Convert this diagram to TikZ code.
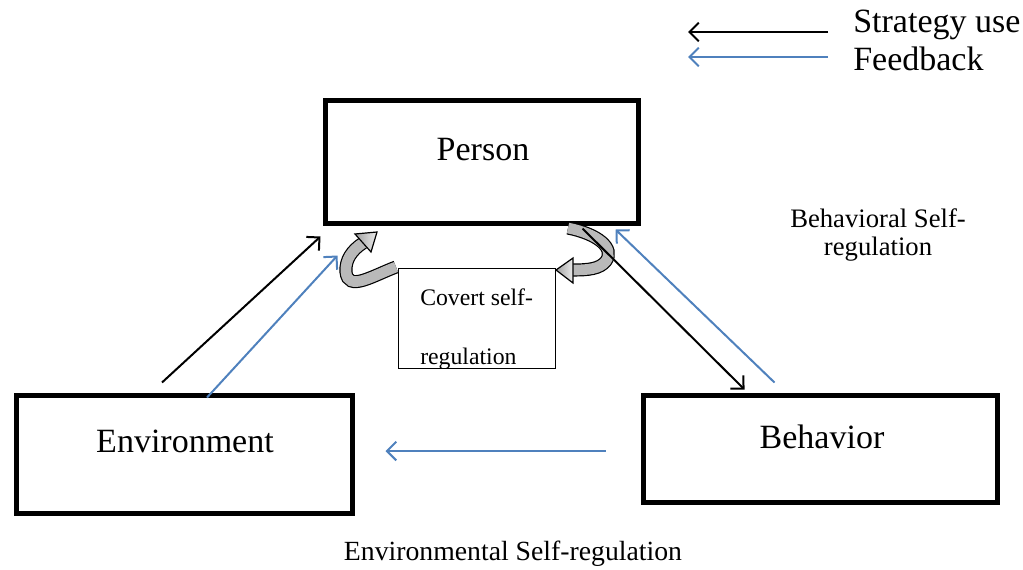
\documentclass[tikz,border=0pt]{standalone}
\usepackage{fontspec}
\setmainfont{Liberation Serif}
\usetikzlibrary{arrows.meta, calc, positioning}

\definecolor{FeedbackBlue}{RGB}{79,129,189}
\newcommand{\BoxFont}{\fontsize{25.5}{30}\selectfont}
\newcommand{\SideFont}{\fontsize{20}{24}\selectfont}
\newcommand{\CovFont}{\fontsize{17.8}{21}\selectfont}

\begin{document}
\begin{tikzpicture}
			[
			x=0.75pt, y=-0.75pt,
			BigBox/.style={draw, line width=3.75pt, fill=white, inner sep=0pt},			%Hauptboxen
			SmallBox/.style={draw, line width=0.75pt, fill=white, inner sep=0pt},		%Covert-Box
			Strategy/.style={line width=1.5pt, -{Straight Barb[length=7pt, width=14pt, line width=1.5pt]}},		%Strategiepfeil
			Feedback/.style={line width=1.5pt, color=FeedbackBlue, -{Straight Barb[length=7pt, width=14pt, line width=1.5pt]}},	%Rueckmeldung
			CurlBand/.style={draw=black, line width=0.9pt, double=gray!55, double distance=8pt},	%Band des Kreispfeils
			CurlHead/.style={draw=black, line width=0.9pt, left color=gray!75, right color=gray!15},	%Spitze des Kreispfeils
			BoxText/.style={font=\BoxFont, inner sep=0pt, anchor=base},
			SideText/.style={font=\SideFont, inner sep=0pt, anchor=base}
			]

			\useasboundingbox (0,0) rectangle (1023,569);

			%% Boxen %%
			\node[BigBox, minimum width=234.75pt, minimum height=92.25pt] (person) at (482,162) {};
			\node[BigBox, minimum width=252pt, minimum height=88.5pt] (env) at (184.5,454.5) {};
			\node[BigBox, minimum width=265.5pt, minimum height=80.25pt] (behav) at (820.5,449) {};
			\node[SmallBox, minimum width=117.75pt, minimum height=75pt] (covert) at (476.5,318) {};

			% Beschriftung der Boxen
			\node[BoxText] (personTxt) at (483,160) {Person};
			\node[BoxText] (envTxt)    at (185,452) {Environment};
			\node[BoxText] (behavTxt)  at (822,448) {Behavior};
			\begin{scope}
				\clip (covert.south west) rectangle (covert.north east);
				\node[font=\CovFont, inner sep=0pt, anchor=base west] (covTxtA) at (420,305) {Covert self-};
				\node[font=\CovFont, inner sep=0pt, anchor=base west] (covTxtB) at (420,364) {regulation};
			\end{scope}

			%% Endpunkte der Pfeile %%
			\coordinate (envOut)     at ($(env.north)+(-22.5,-10.5)$);
			\coordinate (envFbOut)   at ($(env.north)+(22.5,4.5)$);
			\coordinate (personIn)   at ($(person.south west)+(-2.5,10.5)$);
			\coordinate (personFbIn) at ($(person.south west)+(14.5,29.5)$);
			\coordinate (personOut)  at ($(person.south east)+(-58.5,2.5)$);
			\coordinate (personFb)   at ($(person.south east)+(-25.5,3.5)$);
			\coordinate (behavIn)    at ($(behav.north west)+(103.5,-3.5)$);
			\coordinate (behavFb)    at ($(behav.north west)+(133.5,-10.5)$);
			\coordinate (behavEnv)   at ($(behav.west)+(-35.5,2)$);
			\coordinate (envFbIn)    at ($(env.east)+(30.5,-3.5)$);

			%% Rueckmeldungen (blau) %%
			\draw[Feedback] (envFbOut) -- (personFbIn);
			\draw[Feedback] (behavFb) -- (personFb);
			\draw[Feedback] (behavEnv) -- (envFbIn);

			%% Kreispfeile der verdeckten Selbstregulation %%
			\draw[CurlBand] (396,267) .. controls (372,276) and (348,292) .. (346,272)
				.. controls (345,260) and (352,250) .. (363,243);
			\path[CurlHead] (377,232) -- (355,234) -- (371,252) -- cycle;
			\draw[CurlBand] (568,228) .. controls (598,234) and (615,248) .. (606,261)
				.. controls (600,269) and (588,270) .. (573,270);
			\path[CurlHead] (556,270) -- (573,258) -- (573,283) -- cycle;

			%% Strategieeinsatz (schwarz) %%
			\draw[Strategy] (envOut) -- (personIn);
			\draw[Strategy] (personOut) -- (behavIn);

			%% Legende %%
			\coordinate (legStratStart) at (828,32);
			\coordinate (legStratEnd)   at (688,32);
			\coordinate (legFbStart)    at (828,57);
			\coordinate (legFbEnd)      at (688,57);
			\draw[Strategy] (legStratStart) -- (legStratEnd);
			\draw[Feedback] (legFbStart) -- (legFbEnd);
			\node[BoxText, anchor=base west] (legStrat) at (853,32) {Strategy use};
			\node[BoxText, anchor=base west] (legFb)    at (853,70) {Feedback};

			%% Seitenbeschriftungen %%
			\node[SideText] (behavReg) at (878,227) {Behavioral Self-};
			\node[SideText] (behavReg2) at (878,255) {regulation};
			\node[SideText, font=\fontsize{20.8}{24}\selectfont] (envReg) at (513,560) {Environmental Self-regulation};
		\end{tikzpicture}
\end{document}
